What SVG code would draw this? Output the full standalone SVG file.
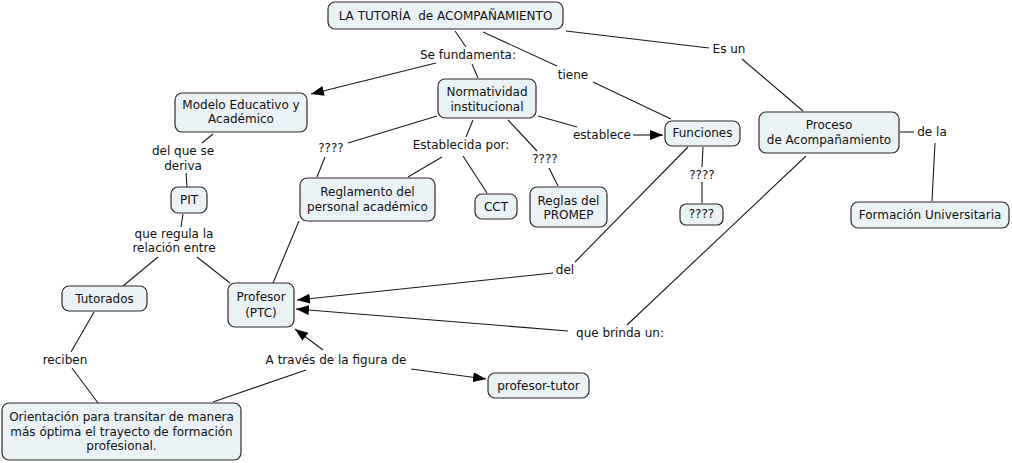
<svg xmlns="http://www.w3.org/2000/svg" width="1012" height="463" viewBox="0 0 1012 463">
<style>
.n rect{fill:#ebf2f5;stroke:#2b2b2b;stroke-width:1.2}
text{font-family:"DejaVu Sans",Verdana,sans-serif;font-size:12px;fill:#111;text-anchor:middle}
.c line{stroke:#1a1a1a;stroke-width:1.1}
.a{marker-end:url(#ah)}
</style>
<defs>
<marker id="ah" markerUnits="userSpaceOnUse" markerWidth="14" markerHeight="10" refX="13" refY="5" orient="auto">
<path d="M0,0 L13,5 L0,10 Z" fill="#000"/>
</marker>
</defs>
<rect width="1012" height="463" fill="#fff"/>
<g id="connectors" class="c">
<line x1="455" y1="31" x2="466" y2="47"/>
<line class="a" x1="436" y1="63" x2="311" y2="94"/>
<line x1="472" y1="64" x2="478" y2="78"/>
<line x1="483" y1="32" x2="557" y2="66"/>
<line x1="593" y1="82" x2="671" y2="119"/>
<line x1="566" y1="31" x2="709" y2="48"/>
<line x1="742" y1="59" x2="803" y2="111"/>
<line x1="538" y1="116" x2="577" y2="127"/>
<line class="a" x1="633" y1="135" x2="663" y2="135"/>
<line x1="437" y1="116" x2="348" y2="143"/>
<line x1="325" y1="157" x2="317" y2="177"/>
<line x1="473" y1="120" x2="466" y2="137"/>
<line x1="442" y1="157" x2="408" y2="177"/>
<line x1="463" y1="156" x2="487" y2="193"/>
<line x1="508" y1="120" x2="537" y2="151"/>
<line x1="549" y1="168" x2="558" y2="186"/>
<line x1="703" y1="147" x2="702" y2="167"/>
<line x1="702" y1="182" x2="702" y2="203"/>
<line x1="688" y1="147" x2="575" y2="262"/>
<line class="a" x1="553" y1="273" x2="297" y2="300"/>
<line x1="806" y1="156" x2="627" y2="325"/>
<line class="a" x1="568" y1="331" x2="296" y2="309"/>
<line x1="900" y1="132" x2="914" y2="132"/>
<line x1="935" y1="143" x2="932" y2="201"/>
<line x1="213" y1="134" x2="202" y2="143"/>
<line x1="186" y1="173" x2="187" y2="187"/>
<line x1="183" y1="214" x2="181" y2="227"/>
<line x1="158" y1="257" x2="123" y2="286"/>
<line x1="197" y1="257" x2="230" y2="283"/>
<line x1="299" y1="221" x2="273" y2="283"/>
<line x1="94" y1="312" x2="71" y2="352"/>
<line x1="72" y1="368" x2="98" y2="403"/>
<line x1="213" y1="402" x2="306" y2="370"/>
<line class="a" x1="323" y1="350" x2="295" y2="329"/>
<line class="a" x1="411" y1="369" x2="486" y2="379"/>
</g>
<g id="labels">
<text x="468" y="59">Se fundamenta:</text>
<text x="573" y="79">tiene</text>
<text x="729" y="53">Es un</text>
<text x="602" y="139">establece</text>
<text x="331" y="152">????</text>
<text x="461" y="149">Establecida por:</text>
<text x="545" y="163">????</text>
<text x="183" y="155">del que se</text>
<text x="183" y="170">deriva</text>
<text x="174" y="238">que regula la</text>
<text x="174" y="252">relación entre</text>
<text x="702" y="179">????</text>
<text x="932" y="136">de la</text>
<text x="565" y="274">del</text>
<text x="620" y="337">que brinda un:</text>
<text x="336" y="364">A través de la figura de</text>
<text x="65" y="364">reciben</text>
</g>
<g id="n1" class="n"><rect x="328" y="2" width="235" height="27" rx="7"/><text x="445.5" y="20" xml:space="preserve">LA TUTORÍA  de ACOMPAÑAMIENTO</text></g>
<g id="n2" class="n"><rect x="175" y="93" width="132" height="39" rx="7"/><text x="241" y="109">Modelo Educativo y</text><text x="241" y="123">Académico</text></g>
<g id="n3" class="n"><rect x="438" y="79" width="98" height="39" rx="7"/><text x="487" y="96">Normatividad</text><text x="487" y="111">institucional</text></g>
<g id="n4" class="n"><rect x="665" y="121" width="75" height="25" rx="7"/><text x="702.5" y="137">Funciones</text></g>
<g id="n5" class="n"><rect x="759" y="112" width="140" height="41" rx="7"/><text x="829" y="129">Proceso</text><text x="829" y="144">de Acompañamiento</text></g>
<g id="n6" class="n"><rect x="851" y="202" width="158" height="26" rx="7"/><text x="930" y="219">Formación Universitaria</text></g>
<g id="n7" class="n"><rect x="680" y="204" width="43" height="21" rx="6"/><text x="701.5" y="218">????</text></g>
<g id="n8" class="n"><rect x="171" y="187" width="36" height="26" rx="7"/><text x="189" y="204">PIT</text></g>
<g id="n9" class="n"><rect x="300" y="178" width="135" height="43" rx="7"/><text x="367.5" y="196">Reglamento del</text><text x="367.5" y="211">personal académico</text></g>
<g id="n10" class="n"><rect x="475" y="194" width="42" height="25" rx="7"/><text x="496" y="211">CCT</text></g>
<g id="n11" class="n"><rect x="530" y="187" width="77" height="40" rx="7"/><text x="568.5" y="205">Reglas del</text><text x="568.5" y="219">PROMEP</text></g>
<g id="n12" class="n"><rect x="62" y="286" width="85" height="25" rx="7"/><text x="104.5" y="303">Tutorados</text></g>
<g id="n13" class="n"><rect x="228" y="283" width="66" height="44" rx="7"/><text x="261" y="301">Profesor</text><text x="261" y="317">(PTC)</text></g>
<g id="n14" class="n"><rect x="2" y="403" width="239" height="57" rx="7"/><text x="121.5" y="421">Orientación para transitar de manera</text><text x="121.5" y="436">más óptima el trayecto de formación</text><text x="121.5" y="450">profesional.</text></g>
<g id="n15" class="n"><rect x="488" y="373" width="101" height="25" rx="7"/><text x="538.5" y="390">profesor-tutor</text></g>
</svg>
